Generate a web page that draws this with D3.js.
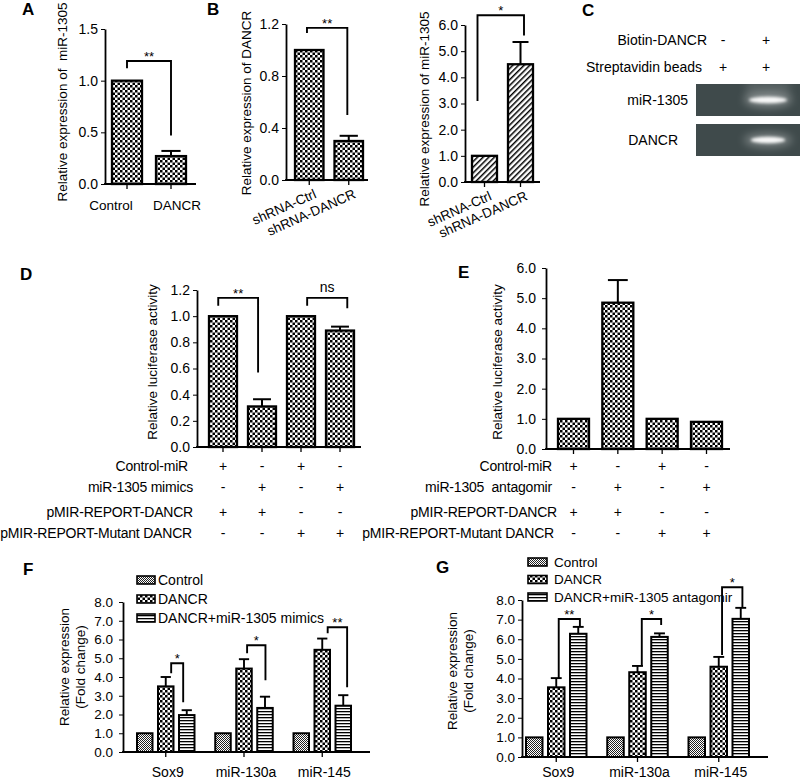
<!DOCTYPE html>
<html><head><meta charset="utf-8">
<script src="https://cdn.jsdelivr.net/npm/d3@7"></script>
<style>
body{margin:0;background:#fff;}
svg{display:block;}
text{white-space:pre;}
</style></head><body>
<svg id="chart" width="800" height="780"></svg>
<script>
// ---------------- DATA ----------------
// Panel A
const aCategories = ["Control", "DANCR"];
const aValues = [1.0, 0.27];
const aErrors = [0, 0.05];
const aTicks = [0, 0.5, 1.0, 1.5];
const aSig = [{from: 0, to: 1, label: "**", yFrom: 1.12, yTop: 1.19, yTo: 0.47}];

// Panel B
const bCategories = ["shRNA-Ctrl", "shRNA-DANCR"];
const bDancrValues = [1.0, 0.30];
const bDancrErrors = [0, 0.04];
const bDancrTicks = [0, 0.4, 0.8, 1.2];
const bDancrSig = [{from: 0, to: 1, label: "**", yFrom: 1.13, yTop: 1.17, yTo: 0.5}];
const bMirValues = [1.0, 4.5];
const bMirErrors = [0, 0.85];
const bMirTicks = [0, 1, 2, 3, 4, 5, 6];
const bMirSig = [{from: 0, to: 1, label: "*", yFrom: 3.1, yTop: 6.37, yTo: 5.6}];

// Panel C
const cLanes = ["lane1", "lane2"];
const cRows = ["Biotin-DANCR", "Streptavidin beads"];
const cSigns = [["-", "+"], ["+", "+"]];
const cGels = ["miR-1305", "DANCR"];
const cBandIntensity = [[0, 1.0], [0, 0.9]];

// Panel D
const dConditions = ["d1", "d2", "d3", "d4"];
const dValues = [1.0, 0.31, 1.0, 0.89];
const dErrors = [0, 0.055, 0, 0.03];
const dTicks = [0, 0.2, 0.4, 0.6, 0.8, 1.0, 1.2];
const dRowLabels = ["Control-miR", "miR-1305 mimics", "pMIR-REPORT-DANCR", "pMIR-REPORT-Mutant DANCR"];
const dSigns = [["+", "-", "+", "-"], ["-", "+", "-", "+"], ["+", "+", "-", "-"], ["-", "-", "+", "+"]];
const dSig = [
  {from: 0, to: 1, label: "**", yFrom: 1.08, yTop: 1.14, yTo: 0.57},
  {from: 2, to: 3, label: "ns", yFrom: 1.08, yTop: 1.14, yTo: 1.06}
];

// Panel E
const eConditions = ["e1", "e2", "e3", "e4"];
const eValues = [1.0, 4.85, 1.0, 0.9];
const eErrors = [0, 0.75, 0, 0];
const eTicks = [0, 1, 2, 3, 4, 5, 6];
const eRowLabels = ["Control-miR", "miR-1305  antagomir", "pMIR-REPORT-DANCR", "pMIR-REPORT-Mutant DANCR"];
const eSigns = [["+", "-", "+", "-"], ["-", "+", "-", "+"], ["+", "+", "-", "-"], ["-", "-", "+", "+"]];

// Panel F
const fGenes = ["Sox9", "miR-130a", "miR-145"];
const fSeries = ["Control", "DANCR", "DANCR+miR-1305 mimics"];
const fControl = [1.0, 1.0, 1.0];
const fDancr = [3.5, 4.45, 5.45];
const fDancrErr = [0.5, 0.5, 0.6];
const fMimics = [1.97, 2.35, 2.47];
const fMimicsErr = [0.26, 0.6, 0.56];
const fTicks = [0, 1, 2, 3, 4, 5, 6, 7, 8];
const fSig = [
  {label: "*", yFrom: 4.2, yTop: 4.73, yTo: 2.66},
  {label: "*", yFrom: 5.27, yTop: 5.69, yTo: 3.83},
  {label: "**", yFrom: 6.33, yTop: 6.65, yTo: 3.46}
];

// Panel G
const gGenes = ["Sox9", "miR-130a", "miR-145"];
const gSeries = ["Control", "DANCR", "DANCR+miR-1305 antagomir"];
const gControl = [1.0, 1.0, 1.0];
const gDancr = [3.55, 4.32, 4.6];
const gDancrErr = [0.47, 0.32, 0.5];
const gAntagomir = [6.28, 6.12, 7.04];
const gAntagomirErr = [0.35, 0.18, 0.56];
const gTicks = [0, 1, 2, 3, 4, 5, 6, 7, 8];
const gSig = [
  {label: "**", yFrom: 4.03, yTop: 7.03, yTo: 6.68},
  {label: "*", yFrom: 4.64, yTop: 7.03, yTo: 6.73},
  {label: "*", yFrom: 5.2, yTop: 8.65, yTo: 7.64}
];

// ---------------- RENDER ----------------
const FONT = '"Liberation Sans", Arial, Helvetica, sans-serif';
const svg = d3.select("#chart").attr("font-family", FONT);
const fmt1 = d3.format(".1f");

// patterns
const defs = svg.append("defs");
function pat(id, w, h, transform) {
  const p = defs.append("pattern").attr("id", id).attr("patternUnits", "userSpaceOnUse")
    .attr("width", w).attr("height", h);
  if (transform) p.attr("patternTransform", transform);
  p.append("rect").attr("width", w).attr("height", h).attr("fill", "#fff");
  return p;
}
let p = pat("checker", 5, 5);
p.append("rect").attr("x", 0).attr("y", 0).attr("width", 2.5).attr("height", 2.5).attr("fill", "#000");
p.append("rect").attr("x", 2.5).attr("y", 2.5).attr("width", 2.5).attr("height", 2.5).attr("fill", "#000");
p = pat("fine", 2, 2);
p.append("rect").attr("x", 0).attr("y", 0).attr("width", 1).attr("height", 1).attr("fill", "#222");
p.append("rect").attr("x", 1).attr("y", 1).attr("width", 1).attr("height", 1).attr("fill", "#222");
p = pat("hstripe", 3, 3);
p.append("rect").attr("x", 0).attr("y", 0).attr("width", 3).attr("height", 1.3).attr("fill", "#000");
p = pat("diag", 4, 4, "rotate(45)");
p.append("rect").attr("x", 0).attr("y", 0).attr("width", 1.5).attr("height", 4).attr("fill", "#000");

const blurS = defs.append("filter").attr("id", "blurS").attr("x", "-50%").attr("y", "-100%").attr("width", "200%").attr("height", "300%");
blurS.append("feGaussianBlur").attr("stdDeviation", 1.4);
const blurL = defs.append("filter").attr("id", "blurL").attr("x", "-50%").attr("y", "-100%").attr("width", "200%").attr("height", "300%");
blurL.append("feGaussianBlur").attr("stdDeviation", 4);

function bandScale(domain, left, right, barW) {
  const n = domain.length;
  const gap = n > 1 ? (right - left - n * barW) / (n - 1) : 0;
  const step = barW + gap;
  return d3.scaleBand().domain(domain).range([left, right]).paddingInner(gap / step).paddingOuter(0);
}

function yAxis(x0, y, ticks, size, pad) {
  const g = svg.append("g").attr("transform", `translate(${x0},0)`)
    .call(d3.axisLeft(y).tickValues(ticks).tickFormat(fmt1).tickSizeInner(4).tickSizeOuter(0).tickPadding(pad || 3));
  g.attr("font-family", FONT).attr("font-size", size || 14);
  g.select(".domain").attr("stroke", "#000").attr("stroke-width", 1.8);
  g.selectAll(".tick line").attr("stroke", "#000").attr("stroke-width", 1);
  g.selectAll(".tick text").attr("fill", "#000");
  return g;
}

function xBase(x0, x1, y0, xScale) {
  svg.append("line").attr("x1", x0 - 0.9).attr("x2", x1).attr("y1", y0).attr("y2", y0)
    .attr("stroke", "#000").attr("stroke-width", 1.8);
  const g = svg.append("g").attr("transform", `translate(0,${y0})`)
    .call(d3.axisBottom(xScale).tickSize(5).tickFormat(""));
  g.select(".domain").remove();
  g.selectAll(".tick line").attr("stroke", "#000").attr("stroke-width", 1.3);
}

function drawBars(x, y, cats, vals, errs, fill) {
  const bw = x.bandwidth();
  const g = svg.append("g");
  g.selectAll("rect").data(cats).join("rect")
    .attr("x", d => x(d)).attr("y", (d, i) => y(vals[i]))
    .attr("width", bw).attr("height", (d, i) => y(0) - y(vals[i]))
    .attr("fill", fill).attr("stroke", "#000").attr("stroke-width", 2.3);
  const eg = svg.append("g").attr("stroke", "#000").attr("stroke-width", 2);
  cats.forEach((d, i) => {
    if (!errs[i]) return;
    const cx = x(d) + bw / 2, cw = bw * 0.32;
    eg.append("line").attr("x1", cx).attr("x2", cx).attr("y1", y(vals[i])).attr("y2", y(vals[i] + errs[i]));
    eg.append("line").attr("x1", cx - cw).attr("x2", cx + cw).attr("y1", y(vals[i] + errs[i])).attr("y2", y(vals[i] + errs[i]));
  });
}

function bracket(xa, xb, y, s, size) {
  const g = svg.append("g");
  g.append("path").attr("d", `M${xa},${y(s.yFrom)}V${y(s.yTop)}H${xb}V${y(s.yTo)}`)
    .attr("fill", "none").attr("stroke", "#000").attr("stroke-width", 1.9);
  const isNs = s.label === "ns";
  g.append("text").attr("x", (xa + xb) / 2).attr("y", y(s.yTop) - (isNs ? 6 : 0))
    .attr("text-anchor", "middle").attr("font-size", size || 13).text(s.label);
}

function yTitle(cx, cy, lines, size) {
  const t = svg.append("text").attr("transform", `translate(${cx},${cy}) rotate(-90)`)
    .attr("text-anchor", "middle").attr("font-size", size || 13.5);
  lines.forEach((l, i) => {
    t.append("tspan").attr("x", 0).attr("dy", i === 0 ? `${0.35 - (lines.length - 1) * 0.55}em` : "1.15em").text(l);
  });
}

function panelLetter(x, y, L) {
  svg.append("text").attr("x", x).attr("y", y).attr("font-size", 17).attr("font-weight", "bold").text(L);
}

// ----- Panel A -----
{
  panelLetter(22, 15, "A");
  const x = bandScale(aCategories, 112, 186, 30);
  const y = d3.scaleLinear().domain([0, 1.5]).range([184, 29]);
  drawBars(x, y, aCategories, aValues, aErrors, "url(#checker)");
  yAxis(105, y, aTicks, 14);
  xBase(105, 196, y(0), x);
  const labOff = [-16, 6];
  svg.append("g").selectAll("text").data(aCategories).join("text")
    .attr("x", (d, i) => x(d) + x.bandwidth() / 2 + labOff[i]).attr("y", 210)
    .attr("text-anchor", "middle").attr("font-size", 13.5).text(d => d);
  yTitle(62, 102, ["Relative expression of  miR-1305"]);
  aSig.forEach(s => bracket(x(aCategories[s.from]) + x.bandwidth() * 0.5, x(aCategories[s.to]) + x.bandwidth() * 0.5, y, s));
}

// ----- Panel B -----
{
  panelLetter(207, 15, "B");
  const x = bandScale(bCategories, 295, 363, 28.5);
  const y = d3.scaleLinear().domain([0, 1.2]).range([180, 24]);
  drawBars(x, y, bCategories, bDancrValues, bDancrErrors, "url(#checker)");
  yAxis(286, y, bDancrTicks, 14);
  xBase(286, 368, y(0), x);
  svg.append("g").selectAll("text").data(bCategories).join("text")
    .attr("transform", d => `translate(${x(d) + x.bandwidth() / 2 + 6},${y(0) + 13}) rotate(-24)`)
    .attr("text-anchor", "end").attr("font-size", 13.5).attr("dy", "0.35em").text(d => d);
  yTitle(246, 103, ["Relative expression of DANCR"]);
  bDancrSig.forEach(s => bracket(x(bCategories[s.from]) + x.bandwidth() * 0.42, x(bCategories[s.to]) + x.bandwidth() * 0.45, y, s));

  const x2 = bandScale(bCategories, 472, 533, 25);
  const y2 = d3.scaleLinear().domain([0, 6]).range([182, 25]);
  drawBars(x2, y2, bCategories, bMirValues, bMirErrors, "url(#diag)");
  yAxis(465, y2, bMirTicks, 14);
  xBase(465, 540, y2(0), x2);
  svg.append("g").selectAll("text").data(bCategories).join("text")
    .attr("transform", d => `translate(${x2(d) + x2.bandwidth() / 2 + 6},${y2(0) + 13}) rotate(-24)`)
    .attr("text-anchor", "end").attr("font-size", 13.5).attr("dy", "0.35em").text(d => d);
  yTitle(424, 109, ["Relative expression of miR-1305"]);
  bMirSig.forEach(s => bracket(x2(bCategories[s.from]) + x2.bandwidth() * 0.22, x2(bCategories[s.to]) + x2.bandwidth() * 0.64, y2, s));
}

// ----- Panel C -----
{
  panelLetter(582, 16, "C");
  const lx = d3.scalePoint().domain(cLanes).range([723, 766]);
  const rowY = d3.scalePoint().domain(cRows).range([40, 67]);
  const rowEnd = [707, 702];
  cRows.forEach((r, i) => {
    svg.append("text").attr("x", rowEnd[i]).attr("y", rowY(r)).attr("dy", "0.35em")
      .attr("text-anchor", "end").attr("font-size", 14).text(r);
    svg.append("g").selectAll("text").data(cLanes).join("text")
      .attr("x", d => lx(d)).attr("y", rowY(r)).attr("dy", "0.35em")
      .attr("text-anchor", "middle").attr("font-size", 14).text((d, j) => cSigns[i][j]);
  });
  const gelY = d3.scaleBand().domain(cGels).range([84, 156]).paddingInner(0.2);
  const labEnd = [688, 678];
  cGels.forEach((gname, i) => {
    const gy = gelY(gname), gh = gelY.bandwidth();
    svg.append("rect").attr("x", 696).attr("y", gy).attr("width", 104).attr("height", gh).attr("fill", "#3f4a4b");
    svg.append("text").attr("x", labEnd[i]).attr("y", gy + gh / 2).attr("dy", "0.35em")
      .attr("text-anchor", "end").attr("font-size", 14).text(gname);
    const clip = defs.append("clipPath").attr("id", "gel" + i);
    clip.append("rect").attr("x", 696).attr("y", gy).attr("width", 104).attr("height", gh);
    const gg = svg.append("g").attr("clip-path", `url(#gel${i})`);
    cLanes.forEach((ln, j) => {
      const v = cBandIntensity[i][j];
      if (!v) return;
      const cx = lx(ln) + 2, cy = gy + gh * 0.5;
      if (i === 0) gg.append("rect").attr("x", cx - 22).attr("y", gy - 4).attr("width", 44).attr("height", gh * 0.55)
        .attr("fill", "#fff").attr("opacity", 0.12).attr("filter", "url(#blurL)");
      gg.append("ellipse").attr("cx", cx).attr("cy", cy).attr("rx", 24).attr("ry", 7)
        .attr("fill", "#fff").attr("opacity", 0.35 * v).attr("filter", "url(#blurL)");
      gg.append("ellipse").attr("cx", cx).attr("cy", cy).attr("rx", 18 * v + 1).attr("ry", 3.2)
        .attr("fill", "#fff").attr("opacity", 0.95).attr("filter", "url(#blurS)");
    });
  });
}

// ----- Panels D & E (luciferase) -----
function luciferase(opts) {
  const x = bandScale(opts.cats, opts.left, opts.right, opts.barW);
  const y = d3.scaleLinear().domain(opts.domain).range([opts.y0, opts.yTop]);
  drawBars(x, y, opts.cats, opts.values, opts.errors, "url(#checker)");
  yAxis(opts.axisX, y, opts.ticks, 14, opts.pad);
  xBase(opts.axisX, opts.axisEnd, y(0), x);
  const rowYs = [466, 487, 512, 533];
  opts.rowLabels.forEach((r, i) => {
    svg.append("text").attr("x", opts.labelEnd[i]).attr("y", rowYs[i]).attr("dy", "0.35em")
      .attr("text-anchor", "end").attr("font-size", 14).attr("letter-spacing", "-0.2").text(r);
    svg.append("g").selectAll("text").data(opts.cats).join("text")
      .attr("x", d => x(d) + x.bandwidth() / 2).attr("y", rowYs[i]).attr("dy", "0.35em")
      .attr("text-anchor", "middle").attr("font-size", 14).text((d, j) => opts.signs[i][j]);
  });
  yTitle(opts.titleX, 362, ["Relative luciferase activity"]);
  return {x, y};
}
{
  panelLetter(20, 280, "D");
  const r = luciferase({cats: dConditions, left: 209, right: 354, barW: 28, domain: [0, 1.2], y0: 447, yTop: 290,
    values: dValues, errors: dErrors, ticks: dTicks, axisX: 197, axisEnd: 361, rowLabels: dRowLabels,
    signs: dSigns, labelEnd: [188, 193, 193, 192], titleX: 152});
  const fr = [[0.33, 0.36], [0.72, 0.76]];
  dSig.forEach((s, k) => bracket(r.x(dConditions[s.from]) + r.x.bandwidth() * fr[k][0],
    r.x(dConditions[s.to]) + r.x.bandwidth() * fr[k][1], r.y, s, s.label === "ns" ? 14 : 13));
}
{
  panelLetter(458, 278, "E");
  luciferase({cats: eConditions, left: 558, right: 722, barW: 31, domain: [0, 6], y0: 449, yTop: 268,
    values: eValues, errors: eErrors, ticks: eTicks, axisX: 546, axisEnd: 730, rowLabels: eRowLabels,
    signs: eSigns, labelEnd: [552, 552, 557, 554], titleX: 497, pad: 6});
}

// ----- Panels F & G (grouped) -----
function grouped(opts) {
  const x0 = bandScale(opts.genes, opts.left, opts.right, opts.groupW);
  const x1 = bandScale(opts.series, 0, opts.groupW, opts.barW);
  const y = d3.scaleLinear().domain([0, 8]).range([opts.y0, opts.yTop]);
  const fills = ["url(#fine)", "url(#checker)", "url(#hstripe)"];
  const vals = [opts.control, opts.dancr, opts.third];
  const errs = [[0, 0, 0], opts.dancrErr, opts.thirdErr];
  opts.series.forEach((s, si) => {
    const g = svg.append("g");
    g.selectAll("rect").data(opts.genes).join("rect")
      .attr("x", d => x0(d) + x1(s)).attr("y", (d, i) => y(vals[si][i]))
      .attr("width", x1.bandwidth()).attr("height", (d, i) => y(0) - y(vals[si][i]))
      .attr("fill", fills[si]).attr("stroke", "#000").attr("stroke-width", 2);
    const eg = svg.append("g").attr("stroke", "#000").attr("stroke-width", 1.9);
    opts.genes.forEach((d, i) => {
      if (!errs[si][i]) return;
      const cx = x0(d) + x1(s) + x1.bandwidth() / 2, cw = x1.bandwidth() * 0.33;
      const v = vals[si][i], e = errs[si][i];
      eg.append("line").attr("x1", cx).attr("x2", cx).attr("y1", y(v)).attr("y2", y(v + e));
      eg.append("line").attr("x1", cx - cw).attr("x2", cx + cw).attr("y1", y(v + e)).attr("y2", y(v + e));
    });
  });
  yAxis(opts.axisX, y, opts.ticks, 13.5, opts.pad);
  xBase(opts.axisX, opts.axisEnd, y(0), x0);
  svg.append("g").selectAll("text").data(opts.genes).join("text")
    .attr("x", d => x0(d) + x0.bandwidth() / 2 + 2).attr("y", 777)
    .attr("text-anchor", "middle").attr("font-size", 14).text(d => d);
  // legend
  const ly = d3.scalePoint().domain(opts.series).range(opts.legY);
  opts.series.forEach((s, si) => {
    svg.append("rect").attr("x", opts.legX).attr("y", ly(s) - 4).attr("width", opts.swW).attr("height", 8)
      .attr("fill", fills[si]).attr("stroke", "#000").attr("stroke-width", 1.6);
    svg.append("text").attr("x", opts.legX + opts.swW + opts.legGap).attr("y", ly(s)).attr("dy", "0.36em")
      .attr("font-size", opts.legSize).text(s);
  });
  yTitle(opts.titleX, opts.titleY, ["Relative expression", "(Fold change)"], 13.5);
  opts.sig.forEach((s, i) => {
    const g = opts.genes[i];
    bracket(x0(g) + x1(opts.series[1]) + x1.bandwidth() * opts.fr[i][0],
      x0(g) + x1(opts.series[2]) + x1.bandwidth() * opts.fr[i][1], y, s, 13);
  });
}
{
  panelLetter(23, 575, "F");
  grouped({genes: fGenes, series: fSeries, control: fControl, dancr: fDancr, dancrErr: fDancrErr,
    third: fMimics, thirdErr: fMimicsErr, ticks: fTicks, sig: fSig,
    left: 137, right: 351, groupW: 57.5, barW: 15.5, y0: 752, yTop: 602, axisX: 123, axisEnd: 370, pad: 6,
    legX: 137, swW: 18, legGap: 3, legY: [580, 618], legSize: 14, titleX: 72, titleY: 667,
    fr: [[0.85, 0.27], [0.7, 0.53], [0.85, 0.75]]});
}
{
  panelLetter(436, 573, "G");
  grouped({genes: gGenes, series: gSeries, control: gControl, dancr: gDancr, dancrErr: gDancrErr,
    third: gAntagomir, thirdErr: gAntagomirErr, ticks: gTicks, sig: gSig,
    left: 526, right: 749, groupW: 60.5, barW: 16.5, y0: 757, yTop: 600, axisX: 522, axisEnd: 768, pad: 3,
    legX: 528, swW: 19, legGap: 7, legY: [562, 597], legSize: 13.5, titleX: 460, titleY: 671,
    fr: [[0.65, 0.6], [0.76, 0.6], [0.7, 0.6]]});
}
</script>
</body></html>
